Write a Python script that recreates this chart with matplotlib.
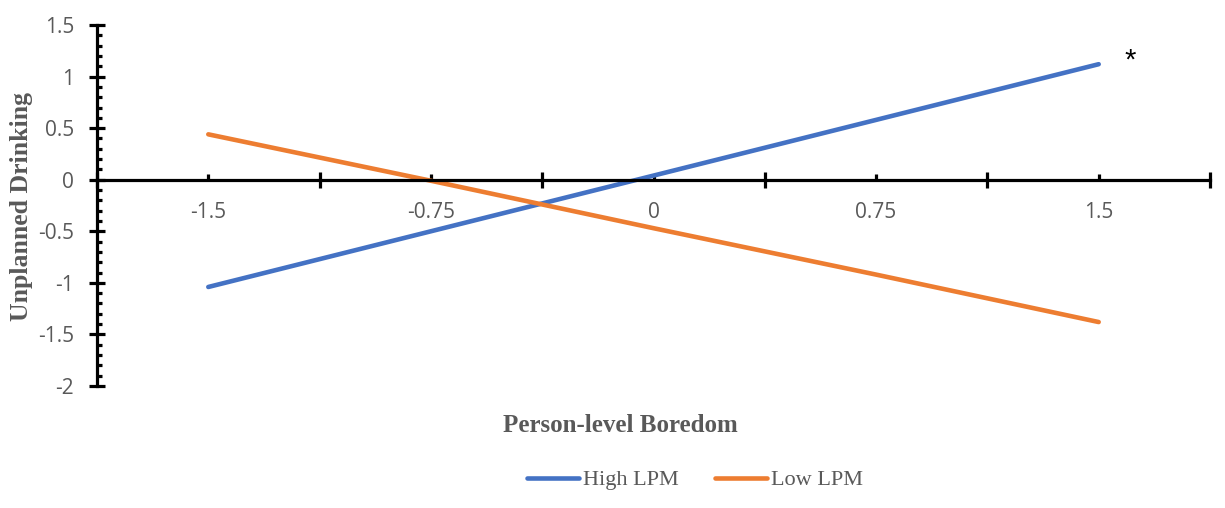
import numpy as np
import matplotlib.pyplot as plt
from matplotlib.ticker import MultipleLocator, FixedLocator, NullFormatter

# --------------------------
# Data
# --------------------------
categories = ["-1.5", "-0.75", "0", "0.75", "1.5"]
high_lpm = [-1.04, -0.50, 0.04, 0.58, 1.12]
low_lpm = [0.44, -0.01, -0.47, -0.92, -1.38]

gray = "#595959"
blue = "#4472C4"
orange = "#ED7D31"

fig = plt.figure(figsize=(12.25, 5.08), dpi=100)
# axes box in pixels: x 97..1210, y 25..386
W, H = 1225, 508
ax = fig.add_axes([97 / W, 1 - 386 / H, (1210 - 97) / W, (386 - 25) / H])

x = np.arange(len(categories))
ax.plot(x, high_lpm, color=blue, lw=3.3, solid_capstyle="round", label="High LPM")
ax.plot(x, low_lpm, color=orange, lw=3.3, solid_capstyle="round", label="Low LPM")

ax.set_xlim(-0.5, len(categories) - 0.5)
ax.set_ylim(-2, 1.5)

# --------------------------
# Axes styling (Excel-like)
# --------------------------
for s in ["top", "right"]:
    ax.spines[s].set_visible(False)
ax.spines["left"].set_linewidth(2.3)
ax.spines["bottom"].set_linewidth(2.3)
ax.spines["bottom"].set_position(("data", 0))

ax.yaxis.set_major_locator(MultipleLocator(0.5))
ax.yaxis.set_minor_locator(MultipleLocator(0.1))
ax.set_yticks(np.arange(-2, 1.51, 0.5))
ax.set_yticklabels([f"{v:g}" for v in np.arange(-2, 1.51, 0.5)])
ax.tick_params(axis="y", which="major", direction="inout", length=11, width=2.3,
               labelsize=15, labelcolor=gray, pad=11)
ax.tick_params(axis="y", which="minor", direction="in", length=3.5, width=2.3)

# x: major ticks between categories, minor ticks at categories carry labels
ax.xaxis.set_major_locator(FixedLocator(np.arange(-0.5, len(categories), 1.0)))
ax.xaxis.set_major_formatter(NullFormatter())
ax.xaxis.set_minor_locator(FixedLocator(x))
ax.set_xticklabels(categories, minor=True)
ax.tick_params(axis="x", which="major", direction="inout", length=11, width=2.3)
ax.tick_params(axis="x", which="minor", direction="in", length=4, width=2.3,
               labelsize=15, labelcolor=gray, pad=16)

for lab in ax.get_xticklabels(minor=True) + ax.get_yticklabels():
    lab.set_family("Open Sans")

# Significance marker
ax.text(4.14, 1.16, "*", fontsize=21, color="black", ha="center", va="center",
        family="Liberation Sans")

# --------------------------
# Titles and legend
# --------------------------
fig.text(22 / W, 1 - 207 / H, "Unplanned Drinking", rotation=90, ha="center", va="center",
         family="Liberation Serif", fontweight="bold", fontsize=18.5, color=gray)
fig.text(620 / W, 1 - 425 / H, "Person-level Boredom", ha="center", va="center",
         family="Liberation Serif", fontweight="bold", fontsize=18, color=gray)

leg = fig.legend(loc="center", bbox_to_anchor=(695 / W, 1 - 480 / H), ncol=2,
                 frameon=False, handlelength=2.35, handletextpad=0.15, columnspacing=1.65,
                 prop={"family": "Liberation Serif", "size": 16})
for t in leg.get_texts():
    t.set_color(gray)

fig.savefig("out.png", dpi=100)
